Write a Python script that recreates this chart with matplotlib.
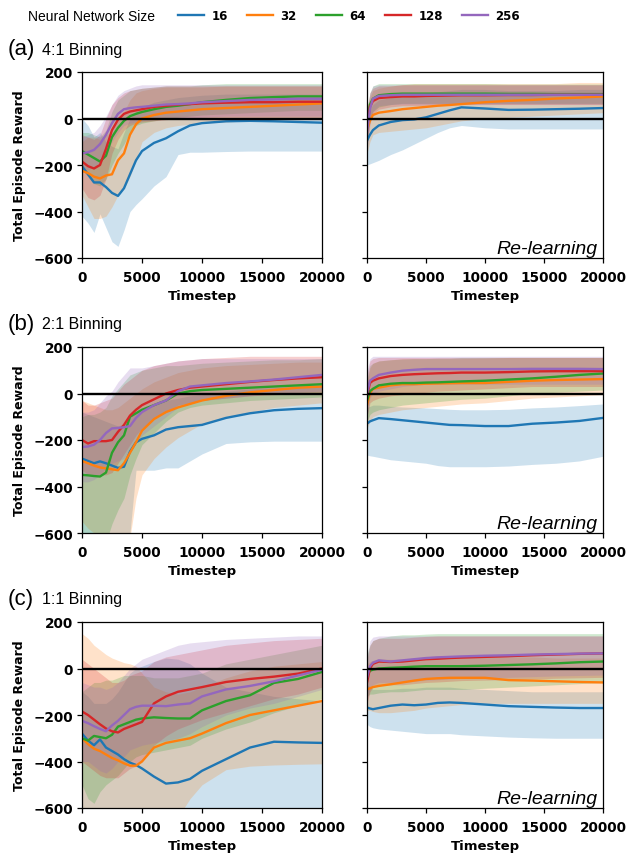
import matplotlib
matplotlib.use("Agg")
import matplotlib.pyplot as plt
from matplotlib.lines import Line2D
from matplotlib.font_manager import FontProperties

# ---------------- data ----------------
SIZES = [16, 32, 64, 128, 256]
COLORS = ["#1f77b4", "#ff7f0e", "#2ca02c", "#d62728", "#9467bd"]
PANEL_TITLES = ["4:1 Binning", "2:1 Binning", "1:1 Binning"]
PANEL_LETTERS = ["(a)", "(b)", "(c)"]
X_TICKS = [0, 5000, 10000, 15000, 20000]
Y_TICKS = [-600, -400, -200, 0, 200]

T_LEFT = [0, 500, 1000, 1500, 2000, 2500, 3000, 3500, 4000, 4500, 5000,
          6000, 7000, 8000, 9000, 10000, 12000, 14000, 16000, 18000, 20000]
T_RIGHT = [0, 250, 500, 1000, 2000, 3000, 4000, 5000, 6000, 7000, 8000,
           10000, 12000, 14000, 16000, 18000, 20000]

# ---- (a) 4:1 binning, learning ----
A_LEFT_MEAN = {
    16: [-205, -240, -275, -275, -295, -320, -333, -300, -240, -180, -140, -105, -85, -55, -30, -20, -12, -10, -12, -15, -18],
    32: [-225, -235, -250, -258, -245, -240, -180, -150, -70, -25, 0, 15, 25, 30, 35, 40, 45, 50, 55, 60, 65],
    64: [-140, -155, -170, -185, -160, -80, -40, -10, 10, 20, 28, 40, 50, 55, 62, 70, 80, 88, 92, 95, 95],
    128: [-185, -205, -215, -200, -130, -50, -5, 20, 30, 35, 40, 50, 55, 60, 62, 65, 68, 70, 70, 72, 72],
    256: [-150, -145, -135, -110, -70, -20, 20, 40, 45, 48, 50, 55, 60, 62, 65, 70, 75, 80, 82, 85, 85],
}
A_LEFT_LOW = {
    16: [-420, -450, -490, -410, -470, -530, -550, -480, -400, -370, -345, -290, -250, -155, -145, -145, -142, -140, -140, -140, -140],
    32: [-330, -380, -430, -430, -420, -380, -330, -300, -250, -180, -100, -60, -40, -30, -25, -20, -15, -10, -5, 0, 0],
    64: [-220, -250, -280, -290, -260, -200, -150, -110, -60, -30, -20, -10, 0, 5, 10, 15, 20, 25, 30, 35, 35],
    128: [-300, -340, -350, -330, -260, -150, -90, -50, -30, -20, -15, -10, -5, 0, 0, 0, 0, 0, 0, 0, 0],
    256: [-220, -220, -210, -190, -150, -100, -60, -30, -20, -15, -10, -5, 0, 0, 0, 5, 10, 10, 10, 10, 10],
}
A_LEFT_HIGH = {
    16: [0, -30, -80, -60, -100, -120, -130, -60, 0, 30, 50, 70, 80, 90, 95, 100, 105, 105, 105, 105, 105],
    32: [-100, -80, -80, -90, -70, -60, 0, 30, 80, 110, 120, 130, 135, 135, 135, 135, 140, 140, 140, 140, 140],
    64: [-60, -60, -70, -80, -50, 30, 80, 100, 120, 125, 130, 135, 140, 140, 140, 145, 150, 150, 150, 150, 150],
    128: [-70, -80, -90, -70, 0, 60, 90, 110, 120, 125, 130, 135, 140, 140, 140, 140, 140, 140, 140, 140, 140],
    256: [-80, -70, -60, -30, 10, 60, 100, 120, 130, 140, 145, 145, 145, 145, 145, 145, 145, 145, 145, 145, 145],
}
# ---- (a) 4:1 binning, re-learning ----
A_RIGHT_MEAN = {
    16: [-95, -70, -50, -30, -15, -7, -4, 5, 20, 35, 48, 43, 37, 38, 40, 42, 45],
    32: [-50, -10, 15, 25, 32, 40, 45, 50, 55, 58, 62, 70, 76, 80, 86, 90, 95],
    64: [-40, 60, 85, 100, 105, 107, 107, 107, 107, 107, 107, 107, 106, 106, 105, 105, 105],
    128: [-40, 50, 75, 88, 92, 95, 95, 97, 98, 99, 100, 100, 101, 101, 102, 102, 102],
    256: [-60, 40, 85, 97, 100, 102, 102, 102, 102, 102, 102, 102, 102, 102, 102, 102, 102],
}
A_RIGHT_LOW = {
    16: [-200, -195, -190, -180, -155, -135, -110, -85, -60, -40, -30, -40, -45, -45, -45, -45, -45],
    32: [-150, -100, -70, -60, -55, -50, -45, -40, -30, -20, -10, 0, 5, 10, 15, 20, 25],
    64: [-120, 0, 30, 50, 60, 65, 65, 65, 65, 65, 65, 65, 65, 65, 65, 65, 65],
    128: [-120, -10, 20, 40, 50, 55, 55, 57, 58, 60, 60, 60, 60, 60, 60, 60, 60],
    256: [-140, -30, 30, 55, 60, 62, 62, 62, 62, 62, 62, 62, 62, 62, 62, 62, 62],
}
A_RIGHT_HIGH = {
    16: [10, 40, 60, 80, 90, 100, 105, 110, 115, 120, 125, 125, 120, 120, 120, 125, 125],
    32: [50, 90, 120, 130, 140, 145, 150, 150, 150, 150, 150, 150, 150, 150, 150, 155, 155],
    64: [40, 110, 140, 150, 150, 150, 150, 150, 150, 150, 150, 150, 148, 148, 148, 148, 148],
    128: [40, 110, 130, 140, 140, 145, 145, 145, 145, 145, 145, 145, 145, 145, 145, 145, 145],
    256: [20, 110, 140, 145, 145, 145, 145, 145, 145, 145, 145, 145, 145, 145, 145, 145, 145],
}

# ---- (b) 2:1 binning, learning ----
B_LEFT_MEAN = {
    16: [-280, -290, -300, -292, -300, -310, -320, -315, -250, -210, -195, -180, -155, -145, -140, -135, -105, -85, -72, -66, -63],
    32: [-290, -300, -310, -318, -322, -326, -330, -300, -255, -210, -160, -110, -80, -60, -45, -30, -10, 5, 15, 25, 30],
    64: [-350, -352, -355, -357, -340, -255, -210, -180, -100, -85, -70, -50, -30, 0, 10, 15, 20, 25, 30, 35, 40],
    128: [-200, -215, -205, -205, -205, -200, -165, -135, -95, -70, -50, -25, 0, 15, 25, 30, 40, 50, 58, 65, 70],
    256: [-230, -228, -220, -200, -170, -150, -148, -145, -140, -105, -80, -50, -30, 10, 30, 35, 45, 52, 60, 70, 80],
}
B_LEFT_LOW = {
    16: [-700, -700, -700, -700, -700, -700, -700, -700, -600, -330, -330, -330, -320, -320, -290, -260, -215, -208, -205, -205, -205],
    32: [-550, -580, -600, -620, -650, -680, -700, -650, -620, -450, -350, -280, -230, -190, -160, -130, -100, -80, -60, -50, -40],
    64: [-600, -620, -630, -640, -640, -560, -500, -450, -350, -280, -220, -170, -120, -80, -60, -50, -40, -30, -25, -20, -15],
    128: [-330, -350, -350, -350, -350, -340, -300, -260, -220, -180, -150, -110, -80, -50, -40, -30, -20, -10, -5, 0, 0],
    256: [-380, -380, -370, -350, -320, -300, -290, -280, -250, -210, -180, -140, -100, -60, -40, -30, -20, -10, 0, 5, 10],
}
B_LEFT_HIGH = {
    16: [-80, -90, -100, -110, -120, -130, -140, -130, -100, -80, -70, -50, -30, -20, -10, -5, 10, 20, 25, 30, 30],
    32: [-30, -40, -50, -60, -70, -70, -60, -40, -20, 0, 20, 50, 70, 90, 100, 110, 120, 125, 130, 135, 135],
    64: [-100, -90, -90, -80, -60, -10, 20, 50, 80, 90, 100, 110, 120, 120, 125, 130, 135, 140, 145, 145, 150],
    128: [-30, -50, -50, -40, -30, -20, 10, 40, 60, 80, 100, 120, 130, 140, 145, 150, 155, 160, 160, 160, 160],
    256: [-80, -80, -70, -40, -10, 10, 50, 80, 110, 110, 110, 120, 130, 140, 145, 150, 150, 150, 150, 150, 150],
}
# ---- (b) 2:1 binning, re-learning ----
B_RIGHT_MEAN = {
    16: [-130, -120, -115, -106, -110, -115, -120, -125, -130, -135, -136, -140, -140, -130, -125, -118, -105],
    32: [-50, 0, 20, 25, 35, 40, 40, 42, 43, 44, 45, 45, 50, 55, 58, 60, 62],
    64: [-30, 10, 20, 35, 42, 45, 45, 47, 48, 50, 52, 55, 60, 65, 72, 80, 86],
    128: [-10, 45, 55, 65, 75, 80, 83, 85, 87, 88, 90, 90, 92, 95, 96, 96, 96],
    256: [0, 55, 65, 80, 90, 98, 102, 105, 105, 105, 105, 105, 105, 106, 106, 106, 105],
}
B_RIGHT_LOW = {
    16: [-265, -268, -270, -275, -285, -290, -295, -300, -310, -315, -315, -315, -312, -305, -300, -290, -270],
    32: [-150, -120, -100, -90, -80, -70, -65, -60, -55, -50, -45, -40, -30, -20, -15, -10, -5],
    64: [-120, -90, -80, -70, -60, -50, -45, -40, -35, -30, -25, -20, -10, 0, 5, 10, 15],
    128: [-100, -40, -30, -20, -10, -5, 0, 5, 10, 12, 15, 20, 25, 30, 30, 30, 30],
    256: [-100, -20, 0, 10, 20, 30, 35, 40, 40, 40, 40, 40, 40, 40, 40, 40, 40],
}
B_RIGHT_HIGH = {
    16: [-60, -55, -50, -50, -55, -58, -60, -62, -65, -68, -70, -70, -68, -62, -58, -52, -45],
    32: [50, 110, 130, 140, 145, 150, 150, 150, 150, 150, 150, 152, 155, 155, 155, 155, 155],
    64: [60, 120, 130, 140, 145, 148, 150, 150, 152, 152, 155, 155, 155, 155, 155, 155, 155],
    128: [80, 140, 150, 155, 155, 155, 155, 155, 155, 155, 155, 155, 155, 155, 155, 155, 155],
    256: [100, 150, 160, 160, 160, 160, 160, 160, 160, 160, 160, 160, 160, 160, 160, 160, 160],
}

# ---- (c) 1:1 binning, learning ----
C_LEFT_MEAN = {
    16: [-280, -310, -330, -305, -340, -355, -370, -390, -405, -415, -430, -465, -495, -490, -475, -440, -390, -340, -315, -318, -320],
    32: [-300, -325, -345, -355, -370, -385, -395, -408, -418, -418, -400, -340, -320, -310, -300, -280, -235, -200, -180, -160, -140],
    64: [-300, -310, -290, -295, -300, -285, -250, -240, -230, -220, -215, -210, -213, -215, -215, -180, -140, -115, -62, -45, -15],
    128: [-185, -200, -220, -240, -258, -270, -275, -260, -250, -240, -230, -150, -120, -100, -90, -80, -58, -45, -35, -22, 0],
    256: [-225, -235, -248, -260, -270, -245, -225, -200, -175, -165, -160, -160, -162, -155, -150, -120, -90, -75, -55, -30, -5],
}
C_LEFT_LOW = {
    16: [-650, -650, -650, -650, -650, -650, -650, -650, -650, -650, -650, -650, -650, -650, -650, -650, -650, -650, -650, -650, -650],
    32: [-650, -650, -650, -650, -650, -650, -650, -650, -650, -650, -650, -650, -650, -640, -560, -500, -435, -420, -415, -412, -410],
    64: [-500, -560, -580, -530, -500, -480, -460, -430, -400, -380, -370, -360, -350, -340, -330, -300, -260, -230, -190, -160, -130],
    128: [-400, -420, -440, -460, -470, -470, -470, -450, -430, -420, -400, -330, -290, -260, -240, -220, -190, -160, -130, -110, -80],
    256: [-400, -400, -420, -440, -450, -430, -400, -380, -350, -340, -330, -320, -310, -300, -280, -250, -200, -170, -150, -120, -90],
}
C_LEFT_HIGH = {
    16: [-100, -120, -150, -150, -150, -130, -100, -60, -20, 0, 10, 30, 45, 40, 20, -20, -80, -100, -120, -130, -140],
    32: [150, 130, 100, 80, 60, 45, 35, 25, 20, 10, -20, -80, -100, -110, -100, -80, -40, -10, 10, 20, 30],
    64: [-100, -80, -60, -60, -50, -50, -40, -30, -30, -30, -30, -40, -40, -40, -30, -20, 20, 40, 60, 80, 100],
    128: [40, 20, 0, -20, -40, -60, -60, -50, -30, -20, -10, 30, 50, 60, 70, 80, 100, 110, 120, 125, 130],
    256: [-60, -70, -80, -80, -90, -80, -60, -30, 0, 20, 40, 60, 80, 100, 110, 115, 125, 130, 135, 140, 140],
}
# ---- (c) 1:1 binning, re-learning ----
C_RIGHT_MEAN = {
    16: [-168, -172, -175, -170, -160, -155, -158, -155, -148, -146, -148, -155, -162, -165, -168, -170, -170],
    32: [-90, -85, -80, -75, -68, -60, -52, -45, -42, -40, -40, -40, -50, -52, -55, -58, -60],
    64: [-30, -10, -5, 0, 3, 5, 8, 10, 10, 10, 10, 12, 15, 18, 22, 27, 30],
    128: [-60, 0, 20, 30, 28, 30, 35, 40, 42, 45, 47, 50, 53, 57, 60, 63, 65],
    256: [-40, 10, 25, 35, 30, 35, 40, 45, 48, 50, 52, 55, 57, 60, 62, 64, 65],
}
C_RIGHT_LOW = {
    16: [-240, -250, -255, -260, -265, -270, -275, -280, -280, -280, -285, -290, -295, -298, -300, -300, -300],
    32: [-180, -180, -185, -190, -190, -185, -180, -170, -165, -160, -155, -150, -150, -150, -150, -150, -150],
    64: [-120, -110, -110, -105, -100, -100, -95, -90, -90, -90, -90, -85, -80, -75, -70, -65, -60],
    128: [-150, -100, -80, -70, -70, -70, -65, -60, -58, -55, -52, -50, -48, -45, -42, -40, -38],
    256: [-130, -90, -70, -60, -60, -60, -55, -50, -48, -45, -42, -40, -38, -35, -32, -30, -28],
}
C_RIGHT_HIGH = {
    16: [-70, -80, -90, -90, -90, -85, -85, -80, -80, -80, -85, -90, -95, -100, -100, -100, -100],
    32: [20, 30, 35, 40, 40, 40, 45, 50, 55, 55, 55, 55, 50, 50, 45, 45, 45],
    64: [60, 100, 120, 130, 140, 145, 145, 148, 150, 150, 150, 150, 150, 150, 150, 150, 150],
    128: [40, 100, 120, 130, 130, 130, 135, 138, 140, 140, 140, 140, 140, 140, 140, 140, 140],
    256: [50, 120, 135, 140, 140, 140, 140, 140, 140, 140, 140, 140, 140, 140, 140, 140, 140],
}

PANELS = [
    ((A_LEFT_MEAN, A_LEFT_LOW, A_LEFT_HIGH), (A_RIGHT_MEAN, A_RIGHT_LOW, A_RIGHT_HIGH)),
    ((B_LEFT_MEAN, B_LEFT_LOW, B_LEFT_HIGH), (B_RIGHT_MEAN, B_RIGHT_LOW, B_RIGHT_HIGH)),
    ((C_LEFT_MEAN, C_LEFT_LOW, C_LEFT_HIGH), (C_RIGHT_MEAN, C_RIGHT_LOW, C_RIGHT_HIGH)),
]

# ---------------- figure ----------------
W, H = 629, 854
fig = plt.figure(figsize=(W / 100, H / 100), dpi=100)

ROW_TOP = [73, 348, 623]
AX_H = 186
LEFT_X, LEFT_W = 82, 240
RIGHT_X, RIGHT_W = 367, 236

TICK_FONT = dict(family="DejaVu Sans", weight="bold", size=9.8)
LABEL_FONT = dict(family="DejaVu Sans", weight="bold", size=9.5)


def style_axes(ax, show_ylabels):
    ax.set_xlim(0, 20000)
    ax.set_ylim(-600, 200)
    ax.set_xticks(X_TICKS)
    ax.set_yticks(Y_TICKS)
    ax.tick_params(length=3.5, width=0.9)
    ax.tick_params(axis="x", pad=5)
    ax.tick_params(axis="y", pad=3)
    for lab in ax.get_xticklabels() + ax.get_yticklabels():
        lab.set_fontproperties(FontProperties(**TICK_FONT))
    if not show_ylabels:
        ax.set_yticklabels([])
    for sp in ax.spines.values():
        sp.set_linewidth(0.9)
    ax.set_xlabel("Timestep", labelpad=3.5, **LABEL_FONT)


def draw(ax, t, mean, low, high):
    for size, color in zip(SIZES, COLORS):
        ax.fill_between(t, low[size], high[size], color=color, alpha=0.22, linewidth=0)
        ax.plot(t, mean[size], color=color, lw=1.7)
    ax.axhline(0, color="black", lw=1.7, zorder=5)


for r, (left_data, right_data) in enumerate(PANELS):
    top = ROW_TOP[r]
    bottom = 1 - (top + AX_H) / H
    axl = fig.add_axes([LEFT_X / W, bottom, LEFT_W / W, AX_H / H])
    axr = fig.add_axes([RIGHT_X / W, bottom, RIGHT_W / W, AX_H / H])
    draw(axl, T_LEFT, *left_data)
    draw(axr, T_RIGHT, *right_data)
    style_axes(axl, True)
    style_axes(axr, False)
    axl.set_ylabel("Total Episode Reward", labelpad=5.5, family="DejaVu Sans", weight="bold", size=9.0)
    axr.text(0.975, 0.027, "Re-learning", transform=axr.transAxes, ha="right", va="baseline",
             family="Liberation Sans", style="italic", size=14)
    ty = 1 - (top - 23) / H
    fig.text(8 / W, ty, PANEL_LETTERS[r], family="Liberation Sans", size=16, va="center", ha="left")
    fig.text(42 / W, ty, PANEL_TITLES[r], family="Liberation Sans", size=11.5, va="center", ha="left")

# legend
fig.text(28 / W, 1 - 17 / H, "Neural Network Size", family="Liberation Sans", size=10, va="center", ha="left")
handles = [Line2D([], [], color=c, lw=1.7) for c in COLORS]
fig.legend(handles, [str(s) for s in SIZES], loc="center left", bbox_to_anchor=(172 / W, 1 - 17 / H),
           ncol=5, frameon=False, borderpad=0, handlelength=2.2, handletextpad=0.65, columnspacing=1.6,
           prop=dict(family="DejaVu Sans", weight="bold", size=8.5))

fig.savefig("out.png", dpi=100)
